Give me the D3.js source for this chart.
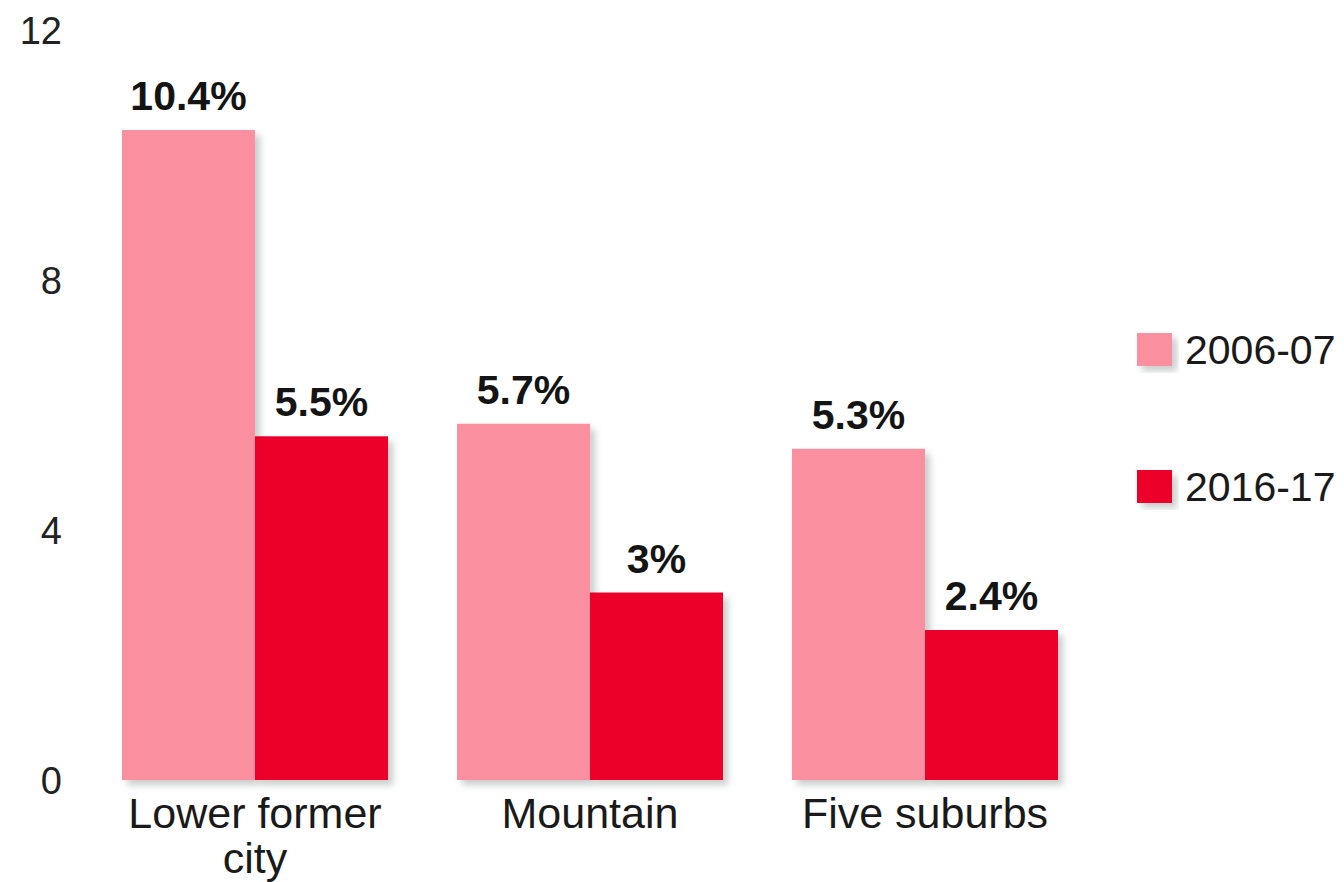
<!DOCTYPE html>
<html>
<head>
<meta charset="utf-8">
<script src="https://cdn.jsdelivr.net/npm/d3@7"></script>
<style>
  html, body { margin: 0; padding: 0; background: #ffffff; }
  svg { display: block; }
  text { font-family: "Liberation Sans", Arial, Helvetica, sans-serif; }
</style>
</head>
<body>
<svg id="chart" width="1344" height="882"></svg>
<script>
const categories = ["Lower former city", "Mountain", "Five suburbs"];
const seriesNames = ["2006-07", "2016-17"];
const values2006 = [10.4, 5.7, 5.3];
const values2016 = [5.5, 3, 2.4];
const valueLabels2006 = ["10.4%", "5.7%", "5.3%"];
const valueLabels2016 = ["5.5%", "3%", "2.4%"];
const yTicks = [0, 4, 8, 12];
const colors = ["#fa8fa0", "#ec0029"];

const seriesValues = [values2006, values2016];
const seriesLabels = [valueLabels2006, valueLabels2016];

const svg = d3.select("#chart");

const defs = svg.append("defs");
const f = defs.append("filter").attr("id", "shadow")
  .attr("x", "-10%").attr("y", "-10%").attr("width", "130%").attr("height", "130%");
f.append("feDropShadow").attr("dx", 5).attr("dy", 5).attr("stdDeviation", 3.5)
  .attr("flood-color", "#8a9090").attr("flood-opacity", 0.45);

const x0 = d3.scaleBand().domain(categories).range([122, 1058]).paddingInner(69 / 335).paddingOuter(0);
const x1 = d3.scaleBand().domain(seriesNames).range([0, x0.bandwidth()]).padding(0);
const y = d3.scaleLinear().domain([0, 12]).range([780, 30]);

// Y axis (labels only)
const yAxis = svg.append("g").attr("transform", "translate(62,0)")
  .call(d3.axisLeft(y).tickValues(yTicks).tickSize(0).tickPadding(0).tickFormat(d3.format("d")));
yAxis.select(".domain").remove();
yAxis.selectAll("text")
  .style("font-family", "'Liberation Sans', Arial, sans-serif")
  .attr("font-size", 38).attr("fill", "#222").attr("dy", "0.36em");

// Bars
const groups = svg.append("g").selectAll("g")
  .data(categories).join("g")
  .attr("transform", d => `translate(${x0(d)},0)`);

groups.each(function(cat, ci) {
  const g = d3.select(this);
  const data = seriesNames.map((s, si) => ({ s, si, v: seriesValues[si][ci], label: seriesLabels[si][ci] }));
  g.selectAll("rect").data(data).join("rect")
    .attr("x", d => x1(d.s))
    .attr("y", d => y(d.v))
    .attr("width", x1.bandwidth())
    .attr("height", d => y(0) - y(d.v))
    .attr("fill", d => colors[d.si])
    .attr("filter", "url(#shadow)");
  g.selectAll("text.val").data(data).join("text")
    .attr("class", "val")
    .attr("x", d => x1(d.s) + x1.bandwidth() / 2)
    .attr("y", d => y(d.v) - 20)
    .attr("text-anchor", "middle")
    .attr("font-size", 41).attr("font-weight", "bold").attr("fill", "#141414")
    .text(d => d.label);
});

// Category labels with wrapping (separate text per line)
const catG = svg.append("g");
const measure = svg.append("text").attr("font-size", 43).attr("visibility", "hidden");
categories.forEach(cat => {
  const cx = x0(cat) + x0.bandwidth() / 2;
  const words = cat.split(" ");
  const lines = [];
  let line = [];
  words.forEach(w => {
    line.push(w);
    measure.text(line.join(" "));
    if (measure.node().getComputedTextLength() > x0.bandwidth() + 20 && line.length > 1) {
      line.pop();
      lines.push(line.join(" "));
      line = [w];
    }
  });
  lines.push(line.join(" "));
  lines.forEach((ln, li) => {
    catG.append("text")
      .attr("x", cx)
      .attr("y", 828 + li * 45)
      .attr("text-anchor", "middle")
      .attr("font-size", 43).attr("fill", "#1a1a1a")
      .text(ln);
  });
});
measure.remove();

// Legend
const legend = svg.append("g");
const legendY = [333, 470];
seriesNames.forEach((s, i) => {
  legend.append("rect")
    .attr("x", 1137).attr("y", legendY[i])
    .attr("width", 35).attr("height", 33)
    .attr("fill", colors[i]).attr("filter", "url(#shadow)");
  legend.append("text")
    .attr("x", 1185).attr("y", legendY[i] + 31)
    .attr("font-size", 41).attr("fill", "#1a1a1a")
    .text(s);
});
</script>
</body>
</html>
